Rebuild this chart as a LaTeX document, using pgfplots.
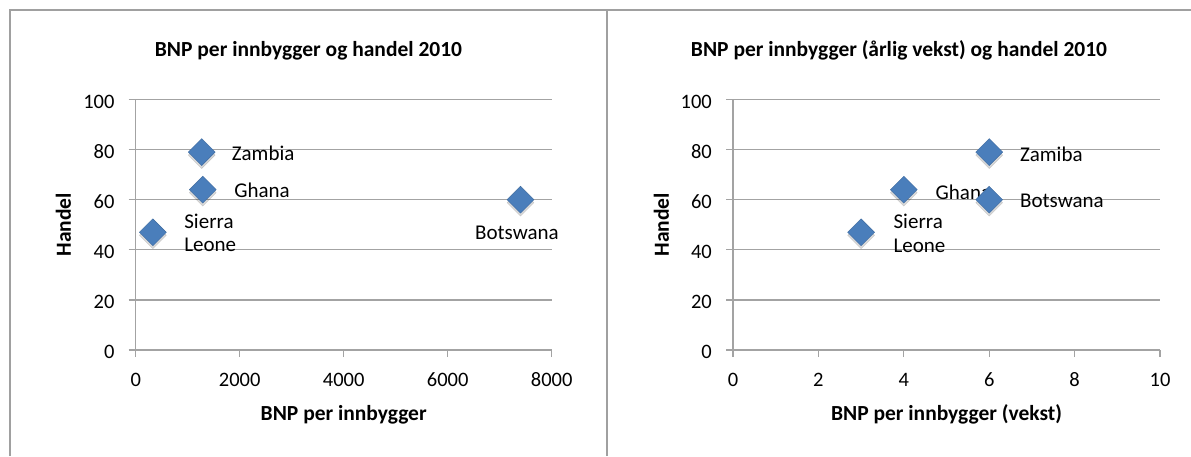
\documentclass[border=0pt]{standalone}
\usepackage{fontspec}
\setmainfont{Carlito}
\usepackage{pgfplots}
\pgfplotsset{compat=1.18}

\definecolor{framegray}{RGB}{160,160,160}
\definecolor{gridgray}{RGB}{163,163,163}
\definecolor{markblue}{RGB}{74,126,187}

\tikzset{lbl/.style={font=\fontsize{21}{24}\selectfont, inner sep=0pt}}

\pgfplotsset{
  panel/.style={
    scale only axis, anchor=south west,
    ymin=0, ymax=100, ytick={0,20,...,100},
    axis lines=left, axis line style={-, gridgray, line width=1.5pt},
    ymajorgrids, grid style={gridgray, line width=1.3pt},
    tick align=outside, major tick length=7pt,
    tick style={gridgray, line width=1.3pt},
    ticklabel style={font=\fontsize{20.5}{24}\selectfont, inner sep=0pt},
    /pgf/number format/assume math mode=true,
    /pgf/number format/1000 sep={},
    scaled ticks=false,
    yticklabel style={anchor=base east, xshift=-14pt, yshift=-8.7pt},
    xticklabel style={anchor=base, yshift=-29pt},
    label style={font=\bfseries\fontsize{21.5}{24}\selectfont, inner sep=0pt},
    xlabel style={at={(axis description cs:0.5,-0.28)}, anchor=base},
    ylabel style={anchor=base},
    clip=false,
  },
  dots/.style={only marks, mark=square*, mark size=9.5pt,
    mark options={rotate=45, fill=markblue, draw=markblue!85!black, line width=0.4pt}},
  mshadow/.style={only marks, mark=square*, mark size=9.5pt,
    mark options={yshift=-3pt, rotate=45, fill=black, draw=none, opacity=0.15}},
}

\begin{document}
\begin{tikzpicture}
\useasboundingbox (0,0) rectangle (1191pt,456pt);

% frame of the two panels
\draw[framegray, line width=2pt] (10pt,0) -- (10pt,446pt) -- (1191pt,446pt);
\draw[framegray, line width=2pt] (607pt,0) -- (607pt,446pt);

% titles
\node[font=\bfseries\fontsize{21.5}{24}\selectfont, anchor=base, inner sep=0pt]
  at (308.5pt,399.3pt) {BNP per innbygger og handel 2010};
\node[font=\bfseries\fontsize{21.5}{24}\selectfont, anchor=base, inner sep=0pt]
  at (899pt,399.3pt) {BNP per innbygger (årlig vekst) og handel 2010};

% left: BNP per innbygger
\begin{axis}[panel,
  at={(135.7pt,106pt)}, width=416pt, height=250.5pt,
  xmin=0, xmax=8000, xtick={0,2000,4000,6000,8000},
  xlabel={BNP per innbygger}, ylabel={Handel},
  ylabel style={at={(axis description cs:-0.156,0.5)}},
]
\addplot[mshadow] coordinates {(330,47) (1270,79) (1290,64) (7400,60)};
\addplot[dots] coordinates {(330,47) (1270,79) (1290,64) (7400,60)};
\node[lbl, anchor=base west, xshift=30pt, yshift=-8.3pt] at (axis cs:1270,79) {Zambia};
\node[lbl, anchor=base west, xshift=31.3pt, yshift=-8.3pt] at (axis cs:1290,64) {Ghana};
\node[lbl, anchor=base west, xshift=31.3pt, yshift=3.4pt] at (axis cs:330,47) {Sierra};
\node[lbl, anchor=base west, xshift=31.3pt, yshift=-19pt] at (axis cs:330,47) {Leone};
\node[lbl, anchor=base, xshift=-3.5pt, yshift=-40pt] at (axis cs:7400,60) {Botswana};
\end{axis}

% right: BNP per innbygger, vekst
\begin{axis}[panel,
  at={(733pt,106pt)}, width=427pt, height=250.5pt,
  xmin=0, xmax=10, xtick={0,2,4,6,8,10},
  xlabel={BNP per innbygger (vekst)}, ylabel={Handel},
  ylabel style={at={(axis description cs:-0.150,0.5)}},
]
\addplot[mshadow] coordinates {(3,47) (4,64) (6,60) (6,79)};
\addplot[dots] coordinates {(3,47) (4,64) (6,60) (6,79)};
\node[lbl, anchor=base west, xshift=30.7pt, yshift=-9pt] at (axis cs:6,79) {Zamiba};
\node[lbl, anchor=base west, xshift=31.7pt, yshift=-10pt] at (axis cs:4,64) {Ghana};
\node[lbl, anchor=base west, xshift=30.7pt, yshift=-8pt] at (axis cs:6,60) {Botswana};
\node[lbl, anchor=base west, xshift=32.3pt, yshift=3.4pt] at (axis cs:3,47) {Sierra};
\node[lbl, anchor=base west, xshift=32.3pt, yshift=-20pt] at (axis cs:3,47) {Leone};
\end{axis}
\end{tikzpicture}
\end{document}
